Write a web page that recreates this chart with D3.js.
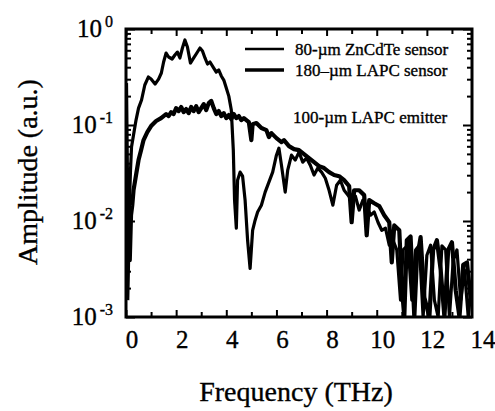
<!DOCTYPE html>
<html>
<head>
<meta charset="utf-8">
<script src="https://cdn.jsdelivr.net/npm/d3@7"></script>
<style>
  body { margin: 0; background: #fff; }
  text { font-family: "Liberation Serif", "Times New Roman", serif; fill: #000; stroke: #000; stroke-width: 0.35; }
</style>
</head>
<body>
<div id="display"></div>
<script>
// 80-um ZnCdTe sensor (thinner line)
var znFreq = [0.02, 0.06, 0.1, 0.14, 0.18, 0.22, 0.3, 0.4, 0.5, 0.62, 0.75, 0.89, 1.0, 1.16, 1.3, 1.41, 1.5, 1.6, 1.7, 1.84,
  1.95, 2.05, 2.15, 2.25, 2.35, 2.45, 2.57, 2.7, 2.8, 2.95, 3.05, 3.15, 3.25, 3.35, 3.5, 3.6, 3.7, 3.8, 3.9, 4.0,
  4.1, 4.2, 4.28, 4.33, 4.4, 4.45, 4.55, 4.65, 4.75, 4.85, 4.95, 5.05, 5.15, 5.25, 5.4, 5.55, 5.7, 5.85, 6.0, 6.1,
  6.2, 6.35, 6.45, 6.6, 6.75, 6.9, 7.05, 7.2, 7.35, 7.5, 7.65, 7.8, 7.95, 8.1, 8.25, 8.4, 8.55, 8.7, 8.85, 9.0,
  9.15, 9.3, 9.45, 9.6, 9.75, 9.9, 10.05, 10.2, 10.35, 10.5, 10.65, 10.8, 10.95, 11.05, 11.25, 11.4, 11.55, 11.7, 11.85, 12.0,
  12.15, 12.3, 12.45, 12.6, 12.75, 12.9, 13.05, 13.2, 13.35, 13.5, 13.65, 13.8];
var znAmp = [0.273, 0.0266, 0.0056, 0.0165, 0.0339, 0.0589, 0.0785, 0.1125, 0.150, 0.182, 0.261, 0.316, 0.301, 0.267, 0.301, 0.348, 0.453, 0.562, 0.511, 0.487,
  0.536, 0.575, 0.499, 0.634, 0.768, 0.649, 0.442, 0.499, 0.549, 0.634, 0.590, 0.499, 0.432, 0.453, 0.392, 0.356, 0.374, 0.324, 0.294, 0.243,
  0.200, 0.143, 0.0547, 0.0165, 0.0084, 0.0266, 0.0323, 0.0293, 0.0165, 0.0063, 0.0032, 0.0080, 0.0102, 0.0124, 0.0146, 0.0200, 0.0254, 0.0323, 0.0485, 0.0574,
  0.0382, 0.0200, 0.0339, 0.0485, 0.0431, 0.0522, 0.041, 0.0452, 0.0382, 0.0301, 0.0356, 0.0323, 0.0279, 0.0209, 0.0146, 0.0236, 0.0266, 0.0209, 0.0186, 0.0165,
  0.0181, 0.0130, 0.0165, 0.0143, 0.0115, 0.0124, 0.0097, 0.0080, 0.0084, 0.0056, 0.0063, 0.0050, 0.0015, 0.0050, 0.0056, 0.0015, 0.0050, 0.0056, 0.001, 0.0044,
  0.0056, 0.0015, 0.001, 0.0055, 0.0050, 0.001, 0.0039, 0.0050, 0.0015, 0.0031, 0.001, 0.0024];

// 180-um LAPC sensor (thicker line)
var lapcFreq = [0.05, 0.1, 0.15, 0.2, 0.25, 0.3, 0.4, 0.5, 0.6, 0.7, 0.85, 1.0, 1.2, 1.4, 1.5, 1.6, 1.7, 1.8, 1.9, 2.0,
  2.1, 2.2, 2.3, 2.4, 2.5, 2.6, 2.7, 2.8, 2.9, 3.0, 3.1, 3.2, 3.3, 3.4, 3.5, 3.6, 3.7, 3.8, 3.9, 4.0,
  4.1, 4.2, 4.3, 4.4, 4.5, 4.6, 4.7, 4.9, 5.0, 5.05, 5.2, 5.4, 5.6, 5.7, 5.8, 6.0, 6.2, 6.3, 6.5, 6.7,
  6.9, 7.1, 7.3, 7.5, 7.7, 7.9, 8.1, 8.3, 8.5, 8.7, 8.9, 9.0, 9.1, 9.3, 9.5, 9.6, 9.7, 9.9, 10.1, 10.3,
  10.5, 10.6, 10.7, 10.9, 11.0, 11.1, 11.2, 11.35, 11.5, 11.6, 11.75, 11.9, 12.1, 12.25, 12.4, 12.55, 12.7, 12.85, 13.0, 13.15,
  13.3, 13.45, 13.6, 13.75];
var lapcAmp = [0.0015, 0.0063, 0.0039, 0.0115, 0.0146, 0.0209, 0.0301, 0.0431, 0.0547, 0.0696, 0.0843, 0.0974, 0.110, 0.118, 0.124, 0.130, 0.124, 0.136, 0.130, 0.150,
  0.1396, 0.154, 0.136, 0.1465, 0.133, 0.154, 0.1396, 0.157, 0.136, 0.150, 0.165, 0.143, 0.169, 0.178, 0.150, 0.130, 0.1396, 0.124, 0.133, 0.118,
  0.127, 0.115, 0.130, 0.118, 0.124, 0.1125, 0.118, 0.107, 0.0696, 0.102, 0.1047, 0.0929, 0.0885, 0.0748, 0.0823, 0.073, 0.0664, 0.0696, 0.0603, 0.0561,
  0.0547, 0.0497, 0.0452, 0.041, 0.0373, 0.0356, 0.0323, 0.0301, 0.0293, 0.0266, 0.0231, 0.0097, 0.0209, 0.0209, 0.0186, 0.0071, 0.0165, 0.0153, 0.0143, 0.0115,
  0.0097, 0.0037, 0.0090, 0.0080, 0.0021, 0.001, 0.0063, 0.0069, 0.001, 0.0039, 0.0068, 0.0016, 0.001, 0.0050, 0.0063, 0.0031, 0.001, 0.0050, 0.0060, 0.0019,
  0.001, 0.0035, 0.0037, 0.0015];

var xTicks = [0, 1, 2, 3, 4, 5, 6, 7, 8, 9, 10, 11, 12, 13];
var xLabels = [0, 2, 4, 6, 8, 10, 12, 14];
var yDecades = [1e-3, 1e-2, 1e-1, 1];
var yExponents = ["-3", "-2", "-1", "0"];
var legendNames = ["80-\u00b5m ZnCdTe sensor", "180\u2013\u00b5m LAPC sensor"];
var noteText = "100-\u00b5m LAPC emitter";

var W = 495, H = 411;
var pLeft = 126, pRight = 472, pTop = 29, pBottom = 317;

var svg = d3.select("#display").append("svg")
    .attr("width", W).attr("height", H);

var x = d3.scaleLinear().domain([0, 13.8]).range([pLeft, pRight]);
var y = d3.scaleLog().domain([1e-3, 1]).range([pBottom, pTop]);

// log minor ticks
var yMinor = [];
yDecades.slice(0, 3).forEach(function (d) {
  for (var k = 2; k <= 9; k++) yMinor.push(d * k);
});

svg.append("clipPath").attr("id", "plotclip")
  .append("rect").attr("x", pLeft).attr("y", pTop - 2)
  .attr("width", pRight - pLeft).attr("height", pBottom - pTop + 2);

var line = d3.line()
    .x(function (d) { return x(d[0]); })
    .y(function (d) { return y(d[1]); });

var zn = znFreq.map(function (f, i) { return [f, znAmp[i]]; });
var lapc = lapcFreq.map(function (f, i) { return [f, lapcAmp[i]]; });

var plot = svg.append("g").attr("clip-path", "url(#plotclip)");
plot.append("path").datum(lapc).attr("d", line)
  .attr("fill", "none").attr("stroke", "#000").attr("stroke-width", 4.2)
  .attr("stroke-linejoin", "round");
plot.append("path").datum(zn).attr("d", line)
  .attr("fill", "none").attr("stroke", "#000").attr("stroke-width", 3.2)
  .attr("stroke-linejoin", "round");

// axes with inward ticks
function styleAxis(g) {
  g.select(".domain").remove();
  g.selectAll(".tick line").attr("stroke", "#000").attr("stroke-width", 2);
  g.selectAll(".tick text").remove();
}
var even = xTicks.filter(function (d) { return d % 2 === 0; });
var odd = xTicks.filter(function (d) { return d % 2 === 1; });

svg.append("g").attr("transform", "translate(0," + pBottom + ")")
  .call(d3.axisBottom(x).tickValues(even).tickSize(-7)).call(styleAxis);
svg.append("g").attr("transform", "translate(0," + pBottom + ")")
  .call(d3.axisBottom(x).tickValues(odd).tickSize(-5)).call(styleAxis);
svg.append("g").attr("transform", "translate(0," + pTop + ")")
  .call(d3.axisTop(x).tickValues(even).tickSize(-7)).call(styleAxis);
svg.append("g").attr("transform", "translate(0," + pTop + ")")
  .call(d3.axisTop(x).tickValues(odd).tickSize(-5)).call(styleAxis);

svg.append("g").attr("transform", "translate(" + pLeft + ",0)")
  .call(d3.axisLeft(y).tickValues(yDecades).tickSize(-9)).call(styleAxis);
svg.append("g").attr("transform", "translate(" + pLeft + ",0)")
  .call(d3.axisLeft(y).tickValues(yMinor).tickSize(-5)).call(styleAxis);
svg.append("g").attr("transform", "translate(" + pRight + ",0)")
  .call(d3.axisRight(y).tickValues(yDecades).tickSize(-9)).call(styleAxis);
svg.append("g").attr("transform", "translate(" + pRight + ",0)")
  .call(d3.axisRight(y).tickValues(yMinor).tickSize(-5)).call(styleAxis);

// frame
svg.append("rect").attr("x", pLeft).attr("y", pTop)
  .attr("width", pRight - pLeft).attr("height", pBottom - pTop)
  .attr("fill", "none").attr("stroke", "#000").attr("stroke-width", 3);

// x tick labels
svg.selectAll(".xlab").data(xLabels).enter().append("text")
  .attr("class", "xlab")
  .attr("x", function (d) { return x(d) + 6; })
  .attr("y", 348)
  .attr("text-anchor", "middle")
  .attr("font-size", 25)
  .text(function (d) { return d; });

// y tick labels 10^n
var ylab = svg.selectAll(".ylab").data(yDecades).enter().append("text")
  .attr("class", "ylab")
  .attr("x", 113)
  .attr("y", function (d) { return y(d) + 8; })
  .attr("text-anchor", "end")
  .attr("font-size", 25);
ylab.append("tspan").text("10");
ylab.append("tspan").attr("dx", 3).attr("dy", -10).attr("font-size", 16)
  .text(function (d, i) { return yExponents[i]; });

// axis titles
svg.append("text")
  .attr("x", 296).attr("y", 401)
  .attr("text-anchor", "middle")
  .attr("font-size", 28)
  .text("Frequency (THz)");
svg.append("text")
  .attr("transform", "translate(37,172) rotate(-90)")
  .attr("text-anchor", "middle")
  .attr("font-size", 28)
  .text("Amplitude (a.u.)");

// legend
var legendWidths = [2.4, 3.6];
legendNames.forEach(function (name, i) {
  var ly = 49 + i * 21;
  svg.append("line").attr("x1", 245).attr("x2", 284).attr("y1", ly).attr("y2", ly)
    .attr("stroke", "#000").attr("stroke-width", legendWidths[i]);
  svg.append("text").attr("x", 295).attr("y", ly + 6)
    .attr("font-size", 17).text(name);
});
svg.append("text").attr("x", 293).attr("y", 123)
  .attr("font-size", 17).text(noteText);
</script>
</body>
</html>
